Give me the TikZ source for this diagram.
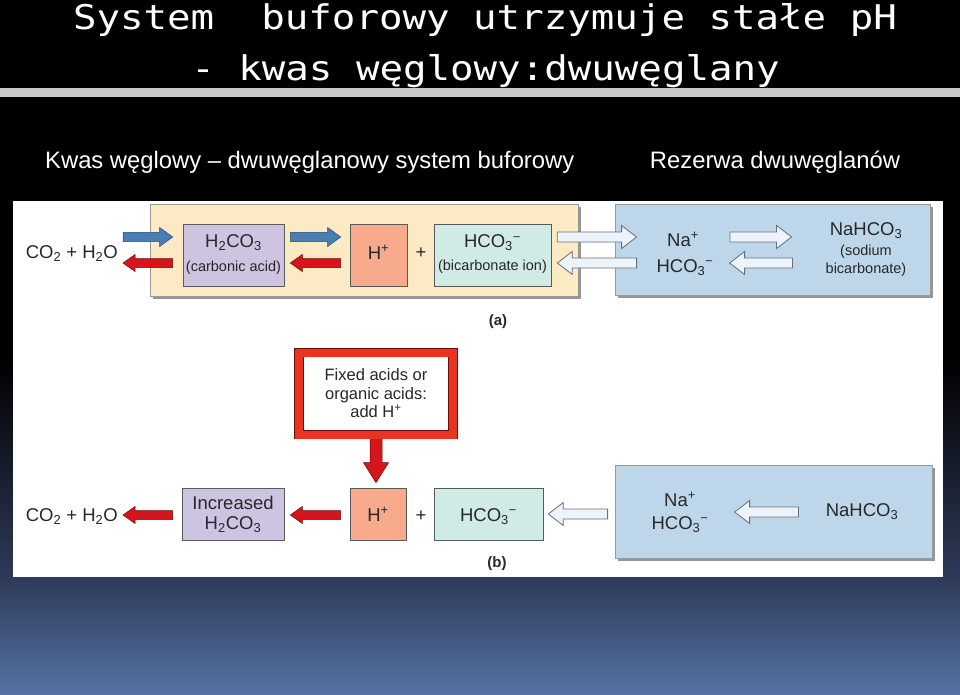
\documentclass[tikz,border=0pt]{standalone}
\usepackage{fontspec}
\setmainfont{Liberation Sans}
\newfontfamily\titlefont[FakeStretch=1.15]{DejaVu Sans Mono}
\usetikzlibrary{calc,shadows}
\definecolor{bgmid}{RGB}{45,58,88}
\definecolor{bgbot}{RGB}{86,115,164}
\definecolor{barcol}{RGB}{200,200,200}
\definecolor{ink}{RGB}{40,40,40}
\definecolor{yelbox}{RGB}{252,234,196}
\definecolor{bluebox}{RGB}{190,214,233}
\definecolor{purbox}{RGB}{204,196,225}
\definecolor{salbox}{RGB}{247,170,140}
\definecolor{tealbox}{RGB}{208,234,229}
\definecolor{bluearrow}{RGB}{74,125,178}
\definecolor{bluearrowd}{RGB}{40,75,115}
\definecolor{redarrow}{RGB}{214,20,28}
\definecolor{redarrowd}{RGB}{110,10,10}
\definecolor{whitearrow}{RGB}{236,243,249}
\definecolor{whitearrowd}{RGB}{100,112,125}
\definecolor{redborder}{RGB}{232,52,32}
\definecolor{boxline}{RGB}{90,90,90}
\definecolor{shadowgray}{RGB}{150,150,150}
\newcommand\figbig{\fontsize{18.5}{20}\selectfont}
\newcommand\figsmall{\fontsize{14.5}{16}\selectfont}
\newcommand\fignote{\fontsize{16.5}{18.5}\selectfont}
\newcommand\figlab{\fontsize{15}{17}\selectfont\bfseries}
\tikzset{
  barrow/.style n args={5}{to path={let \p1=(\tikztostart), \p2=(\tikztotarget),
      \n1={atan2(\y2-\y1,\x2-\x1)},
      \p3=($(\p1)+(\n1:#4)$), \p4=($(\p2)+(\n1+180:#5)$) in
      ($(\p3)+(\n1+90:#1)$) -- ($(\p4)+(\n1+180:#3)+(\n1+90:#1)$)
      -- ($(\p4)+(\n1+180:#3)+(\n1+90:#2)$) -- (\p4)
      -- ($(\p4)+(\n1+180:#3)+(\n1-90:#2)$) -- ($(\p4)+(\n1+180:#3)+(\n1-90:#1)$)
      -- ($(\p3)+(\n1-90:#1)$) -- cycle}},
  bluearr/.style 2 args={draw=bluearrowd, fill=bluearrow, line width=0.5pt, line join=miter,
      barrow={4.7pt}{9.5pt}{13pt}{#1}{#2}},
  redarr/.style 2 args={draw=redarrowd, fill=redarrow, line width=0.5pt, line join=miter,
      barrow={4.5pt}{8.5pt}{12pt}{#1}{#2}},
  downarr/.style 2 args={draw=redarrowd, fill=redarrow, line width=0.5pt, line join=miter,
      barrow={6pt}{12.5pt}{20pt}{#1}{#2}},
  whitearr/.style 2 args={draw=whitearrowd, fill=whitearrow, line width=0.8pt, line join=miter,
      barrow={5pt}{11.5pt}{15pt}{#1}{#2}},
  bigbox/.style={draw=gray!80, line width=0.8pt, inner sep=0,
      drop shadow={shadow xshift=3pt, shadow yshift=-3pt, fill=shadowgray, opacity=1}},
  sbox/.style={draw=boxline, line width=0.6pt, inner sep=0},
  txt/.style={inner sep=0, text=ink},
}
\begin{document}
\begin{tikzpicture}[x=1pt,y=-1pt]
\useasboundingbox (0,0) rectangle (960,695);
% background
\fill[black] (0,0) rectangle (960,360);
\shade[top color=black, bottom color=bgmid] (0,360) rectangle (960,578);
\shade[top color=bgmid, bottom color=bgbot] (0,577) rectangle (960,695);
\fill[barcol] (0,88) rectangle (960,97);
% titles
\node[anchor=base, inner sep=0, text=white, font=\titlefont\fontsize{34}{36}\selectfont] (t1) at (485,30) {System~ buforowy utrzymuje stałe pH};
\node[anchor=base, inner sep=0, text=white, font=\titlefont\fontsize{34}{36}\selectfont] (t2) at (485.5,81) {- kwas węglowy:dwuwęglany};
\node[anchor=base west, inner sep=0, text=white, font=\fontsize{23.8}{26}\selectfont] (s1) at (45,168) {Kwas węglowy – dwuwęglanowy system buforowy};
\node[anchor=base, inner sep=0, text=white, font=\fontsize{23.8}{26}\selectfont] (s2) at (775,168) {Rezerwa dwuwęglanów};
% panel
\fill[white] (13,201) rectangle (943,577);

% ---------- (a)
\node[bigbox, fill=yelbox, minimum width=428pt, minimum height=92pt] (ybox) at (364,250) {};
\node[bigbox, fill=bluebox, minimum width=315pt, minimum height=91pt] (bluea) at (772.5,249.5) {};
\node[sbox, fill=purbox, minimum width=101pt, minimum height=62pt] (h2co3a) at (233.5,255) {};
\node[sbox, fill=salbox, minimum width=57pt, minimum height=62pt] (hpa) at (378.5,255) {};
\node[sbox, fill=tealbox, minimum width=117pt, minimum height=62pt] (hco3a) at (492.5,255) {};

\node[txt, anchor=base east, font=\figbig] (co2a) at (118,258) {CO\textsubscript{2} + H\textsubscript{2}O};
\node[txt, anchor=base, font=\figbig] (h2co3at) at (233.5,247.5) {H\textsubscript{2}CO\textsubscript{3}};
\node[txt, anchor=base, font=\figsmall] (carb) at (233.5,271) {(carbonic acid)};
\node[txt, anchor=base, font=\figbig] (hpat) at (378.5,259) {H\textsuperscript{+}};
\node[txt, anchor=base, font=\figbig] (plusa) at (421,258) {+};
\node[txt, anchor=base, font=\figbig] (hco3at) at (492.5,247.5) {HCO\textsubscript{3}\textsuperscript{−}};
\node[txt, anchor=base, font=\figsmall] (bicion) at (492.5,270) {(bicarbonate ion)};

\node[txt, anchor=base, font=\figbig] (na1) at (683,246) {Na\textsuperscript{+}};
\node[txt, anchor=base, font=\figbig] (hc1) at (685,272) {HCO\textsubscript{3}\textsuperscript{−}};
\node[txt, anchor=base, font=\figbig] (nahco1) at (866,235) {NaHCO\textsubscript{3}};
\node[txt, anchor=base, font=\figsmall] (sod1) at (866,255) {(sodium};
\node[txt, anchor=base, font=\figsmall] (bic1) at (866,273) {bicarbonate)};
\node[txt, anchor=base, font=\figlab] (la) at (498,325) {(a)};

\draw[bluearr={5pt}{10pt}] ([yshift=21pt]co2a.base east) to ([yshift=18pt]h2co3a.west);
\draw[redarr={10pt}{5pt}] ([yshift=-8pt]h2co3a.west) to ([yshift=-5pt]co2a.base east);
\draw[bluearr={6pt}{9pt}] ([yshift=18pt]h2co3a.east) to ([yshift=18pt]hpa.west);
\draw[redarr={9pt}{6pt}] ([yshift=-8pt]hpa.west) to ([yshift=-8pt]h2co3a.east);
\draw[whitearr={6pt}{-22pt}] ([yshift=18pt]hco3a.east) to ([yshift=12.5pt]bluea.west);
\draw[whitearr={-22pt}{6pt}] ([yshift=-13.5pt]bluea.west) to ([yshift=-8pt]hco3a.east);
\draw[whitearr={31pt}{38pt}] ([yshift=9pt]na1.base east) to ([yshift=-2pt]nahco1.base west);
\draw[whitearr={33pt}{16pt}] ([yshift=10pt]bic1.base west) to ([yshift=9pt]hc1.base east);

% ---------- (b)
\node[bigbox, fill=bluebox, minimum width=317pt, minimum height=93pt] (blueb) at (773.5,511.5) {};
\node[sbox, fill=purbox, minimum width=102pt, minimum height=52pt, align=center, text=ink,
      font=\figbig, execute at begin node={\baselineskip=20pt}] (incr) at (233,514) {Increased\\H\textsubscript{2}CO\textsubscript{3}};
\node[sbox, fill=salbox, minimum width=56pt, minimum height=52pt] (hpb) at (378,514) {};
\node[sbox, fill=tealbox, minimum width=109pt, minimum height=52pt] (hco3b) at (488.5,514) {};
\node[txt, anchor=base, font=\figbig] (hpbt) at (378,521) {H\textsuperscript{+}};
\node[txt, anchor=base, font=\figbig] (plusb) at (421,521) {+};
\node[txt, anchor=base, font=\figbig] (hco3bt) at (488.5,521) {HCO\textsubscript{3}\textsuperscript{−}};
\node[txt, anchor=base east, font=\figbig] (co2b) at (118,521) {CO\textsubscript{2} + H\textsubscript{2}O};
\node[txt, anchor=base, font=\figbig] (na2) at (680,506) {Na\textsuperscript{+}};
\node[txt, anchor=base, font=\figbig] (hc2) at (680,529) {HCO\textsubscript{3}\textsuperscript{−}};
\node[txt, anchor=base, font=\figbig] (nahco2) at (862,516) {NaHCO\textsubscript{3}};
\node[txt, anchor=base, font=\figlab] (lb) at (497,567) {(b)};

\draw[downarr={0pt}{5pt}] (376,435) coordinate (rbs) to (rbs |- hpb.north);
\node[draw=redarrowd, double=redborder, double distance=8pt, line width=0.6pt, fill=white,
      minimum width=154pt, minimum height=82pt, inner sep=0, align=center, text=ink,
      font=\fignote] (redbox) at (376,393.5) {Fixed acids or\\organic acids:\\add H\textsuperscript{+}};

\draw[redarr={9pt}{5pt}] ([yshift=-1pt]incr.west) to ([yshift=6pt]co2b.base east);
\draw[redarr={9pt}{6pt}] ([yshift=-1pt]hpb.west) to ([yshift=-1pt]incr.east);
\draw[whitearr={7pt}{5pt}] ([yshift=-2.5pt]blueb.west) to (hco3b.east);
\draw[whitearr={27pt}{26pt}] ([yshift=4pt]nahco2.base west) to ([yshift=17pt]hc2.base east);
\end{tikzpicture}
\end{document}
